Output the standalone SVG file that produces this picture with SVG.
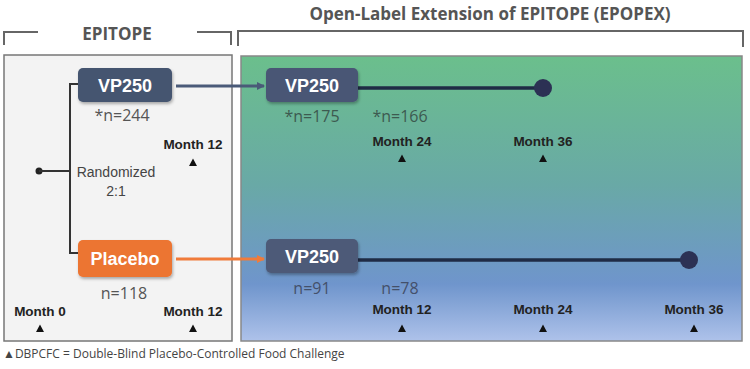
<svg xmlns="http://www.w3.org/2000/svg" width="750" height="369" viewBox="0 0 750 369">
<defs>
<linearGradient id="olegrad" x1="0" y1="0" x2="0" y2="1">
<stop offset="0" stop-color="#6bbf8c"/>
<stop offset="0.45" stop-color="#69a9a6"/>
<stop offset="0.8" stop-color="#6f95cc"/>
<stop offset="1" stop-color="#aec2ea"/>
</linearGradient>
<filter id="sh" x="-10%" y="-20%" width="130%" height="150%">
<feDropShadow dx="1" dy="2" stdDeviation="1.5" flood-color="#000" flood-opacity="0.3"/>
</filter>
<marker id="arrB" markerWidth="8" markerHeight="8" refX="7" refY="4" orient="auto" markerUnits="userSpaceOnUse">
<path d="M0,0 L8,4 L0,8 Z" fill="#4a5a78"/>
</marker>
<marker id="arrO" markerWidth="8" markerHeight="8" refX="7" refY="4" orient="auto" markerUnits="userSpaceOnUse">
<path d="M0,0 L8,4 L0,8 Z" fill="#f07b3a"/>
</marker>
<path id="tri" d="M-4,4 L0,-3.5 L4,4 Z" fill="#111"/>
</defs>
<style>
.hdr{font-family:"Open Sans","Liberation Sans",sans-serif;font-weight:bold;fill:#555;}
.box{font-family:"Liberation Sans",Arial,sans-serif;font-weight:bold;fill:#fff;font-size:18px;text-anchor:middle;}
.n{font-family:"Open Sans","Liberation Sans",sans-serif;font-size:16px;text-anchor:middle;}
.mo{font-family:"Liberation Sans",Arial,sans-serif;font-weight:bold;font-size:13.5px;fill:#222;text-anchor:middle;}
.sm{font-family:"Liberation Sans",Arial,sans-serif;font-size:14px;fill:#444;text-anchor:middle;}
.br{fill:none;stroke:#666;stroke-width:2;}
</style>
<rect width="750" height="369" fill="#fff"/>

<g id="headers">
<path class="br" d="M4,45 V32 H38"/>
<path class="br" d="M197,32 H231 V45"/>
<text class="hdr" x="117" y="40" font-size="17" text-anchor="middle">EPITOPE</text>
<path class="br" d="M238,46 V31 H743 V47"/>
<text class="hdr" x="490" y="20" font-size="17" text-anchor="middle">Open-Label Extension of EPITOPE (EPOPEX)</text>
</g>

<g id="epitope-panel">
<rect x="4" y="55" width="228" height="286" fill="#f3f3f3" stroke="#777" stroke-width="1.5"/>
</g>
<g id="epopex-panel">
<rect x="241" y="56" width="501" height="285" fill="url(#olegrad)" stroke="#888" stroke-width="1.5"/>
</g>

<g id="connectors">
<circle cx="39" cy="171" r="3.5" fill="#222"/>
<path d="M39,171 H70 M78,84 H70 V253 H78" fill="none" stroke="#333" stroke-width="2"/>
<line x1="176" y1="86" x2="264" y2="86" stroke="#4a5a78" stroke-width="3" marker-end="url(#arrB)"/>
<line x1="176" y1="259" x2="264" y2="259" stroke="#f07b3a" stroke-width="3" marker-end="url(#arrO)"/>
<line x1="358" y1="88" x2="543" y2="88" stroke="#1f2b45" stroke-width="3.5"/>
<circle cx="543" cy="88" r="9" fill="#2c3154"/>
<line x1="358" y1="260" x2="689" y2="260" stroke="#1f2b45" stroke-width="3.5"/>
<circle cx="689" cy="260" r="9" fill="#2c3154"/>
</g>

<g id="vp250-epitope">
<rect x="78" y="68" width="94" height="34" rx="5" fill="#44546f" filter="url(#sh)"/>
<text class="box" x="125" y="92">VP250</text>
<text class="n" x="122" y="121" fill="#555">*n=244</text>
</g>
<g id="randomized">
<text class="sm" x="116" y="177">Randomized</text>
<text class="sm" x="116" y="196">2:1</text>
</g>
<g id="placebo-epitope">
<rect x="78" y="240" width="94" height="37" rx="5" fill="#ec7430" filter="url(#sh)"/>
<text class="box" x="125" y="265">Placebo</text>
<text class="n" x="124" y="299" fill="#555">n=118</text>
</g>
<g id="epitope-months">
<text class="mo" x="193" y="149">Month 12</text>
<use href="#tri" x="193" y="162"/>
<text class="mo" x="40" y="316">Month 0</text>
<use href="#tri" x="40" y="328"/>
<text class="mo" x="193" y="316">Month 12</text>
<use href="#tri" x="193" y="328"/>
</g>

<g id="vp250-ole-top">
<rect x="266" y="68" width="92" height="34" rx="5" fill="#4a5775" filter="url(#sh)"/>
<text class="box" x="312" y="92">VP250</text>
<text class="n" x="312" y="122" fill="#3d5a50">*n=175</text>
<text class="n" x="400" y="122" fill="#3d5a50">*n=166</text>
<text class="mo" x="402" y="146">Month 24</text>
<use href="#tri" x="402" y="158"/>
<text class="mo" x="543" y="146">Month 36</text>
<use href="#tri" x="543" y="158"/>
</g>

<g id="vp250-ole-bottom">
<rect x="266" y="239" width="92" height="34" rx="5" fill="#4d5a78" filter="url(#sh)"/>
<text class="box" x="312" y="263">VP250</text>
<text class="n" x="312" y="294" fill="#44506a">n=91</text>
<text class="n" x="400" y="294" fill="#44506a">n=78</text>
<text class="mo" x="402" y="314">Month 12</text>
<use href="#tri" x="402" y="328"/>
<text class="mo" x="543" y="314">Month 24</text>
<use href="#tri" x="543" y="328"/>
<text class="mo" x="694" y="314">Month 36</text>
<use href="#tri" x="694" y="328"/>
</g>

<g id="footnote">
<text x="3" y="358" font-family="Open Sans, Liberation Sans, sans-serif" font-size="12" fill="#444">▲DBPCFC = Double-Blind Placebo-Controlled Food Challenge</text>
</g>
</svg>
